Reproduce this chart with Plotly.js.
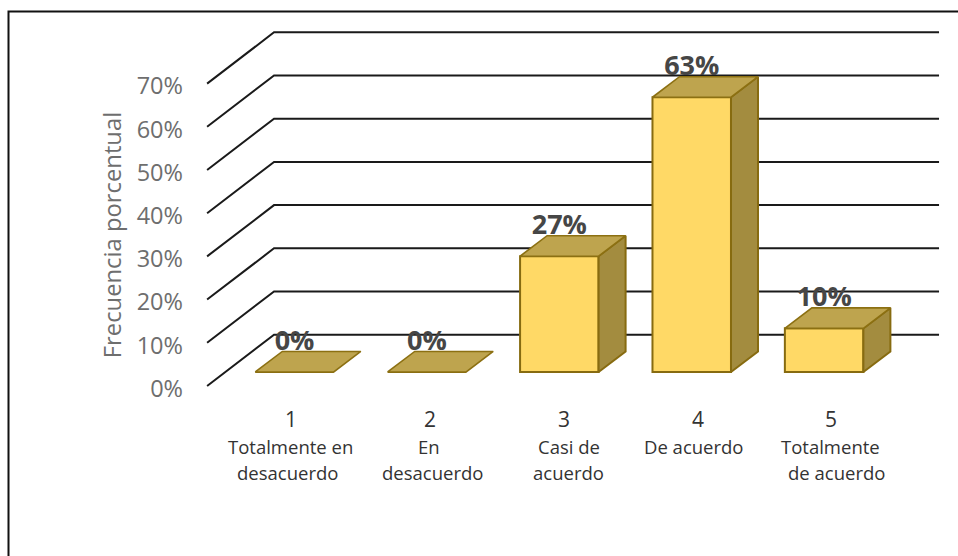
<!DOCTYPE html>
<html>
<head>
<meta charset="utf-8">
<script src="https://cdn.plot.ly/plotly-3.0.1.min.js"></script>
<style>html,body{margin:0;padding:0;background:#fff}#chart{width:958px;height:556px}</style>
</head>
<body>
<div id="chart"></div>
<script>
// Data
const categories = [1, 2, 3, 4, 5];
const values = [0, 0, 26.8, 63.6, 10.1];
const valueLabels = ['0%', '0%', '27%', '63%', '10%'];
const yTicks = [0, 10, 20, 30, 40, 50, 60, 70];
const yTickText = ['0%', '10%', '20%', '30%', '40%', '50%', '60%', '70%'];
const numberTickPos = [0.974, 2.023, 3.035, 4.047, 5.051];
const catLine1 = ['Totalmente en', 'En', 'Casi de', 'De acuerdo', 'Totalmente'];
const catLine1Pos = [0.97, 2.015, 3.07, 4.02, 5.05];
const catLine2 = ['desacuerdo', 'desacuerdo', 'acuerdo', '', 'de acuerdo'];
const catLine2Pos = [0.95, 2.04, 3.07, 4.02, 5.095];

// Projection of the pseudo 3-D box, in axis units
const W = 958, H = 556;
const L = 184, R = 945, T = 20, B = 450;
const xRange = [0.165, 5.913];
const yRange = [-18.06, 81.48];
const xAxisPx = 405;
const barWidth = 0.593, depthX = 0.204, depthY = 4.75;
const frontX = 0.3395, backX = 0.845, rightX = 5.868;
const frontDY = -3.24, backDY = 8.63;
const tickLabelDY = -0.6;
const labelDY = 6.7;

const paperX = px => (px - L) / (R - L);
const paperY = py => (B - py) / (B - T);

// Top and side faces built from the values
const topX = [], topY = [], sideX = [], sideY = [];
categories.forEach((c, i) => {
  const x0 = c - barWidth / 2, x1 = c + barWidth / 2, v = values[i];
  topX.push(x0, x1, x1 + depthX, x0 + depthX, x0, null);
  topY.push(v, v, v + depthY, v + depthY, v, null);
  if (v > 0) {
    sideX.push(x1, x1 + depthX, x1 + depthX, x1, x1, null);
    sideY.push(0, depthY, v + depthY, v, 0, null);
  }
});

const traces = [
  { type: 'bar', x: categories, y: values, width: barWidth,
    marker: { color: '#ffd966', line: { color: '#876b10', width: 2 } },
    hoverinfo: 'skip', showlegend: false },
  { type: 'scatter', mode: 'lines', x: sideX, y: sideY, fill: 'toself', fillcolor: '#a38c3f',
    line: { color: '#876b10', width: 2 }, hoverinfo: 'skip', showlegend: false },
  { type: 'scatter', mode: 'lines', x: topX, y: topY, fill: 'toself', fillcolor: '#bea44e',
    line: { color: '#8c7012', width: 1.6 }, hoverinfo: 'skip', showlegend: false },
  { type: 'scatter', mode: 'text', x: categories, y: values.map(v => v + labelDY),
    text: valueLabels, textposition: 'middle center', cliponaxis: false,
    textfont: { family: 'Open Sans', size: 27, color: '#464646', weight: 700 },
    hoverinfo: 'skip', showlegend: false }
];

// Gridlines: front edge, back corner, back wall
const shapes = yTicks.map(v => ({
  type: 'path', xref: 'x', yref: 'y', layer: 'below',
  path: `M ${frontX} ${v + frontDY} L ${backX} ${v + backDY} L ${rightX} ${v + backDY}`,
  line: { color: '#1a1a1a', width: 2 }
}));
// Outer frame, open at the right and bottom edges of the image
shapes.push({
  type: 'path', xref: 'paper', yref: 'paper',
  path: `M ${paperX(8.5)} ${paperY(556)} L ${paperX(8.5)} ${paperY(11.5)} L ${paperX(958)} ${paperY(11.5)}`,
  line: { color: '#111111', width: 2 }
});

const annotations = [];
const catFont = { family: 'Open Sans', size: 18.5, color: '#333333' };
catLine1.forEach((t, i) => annotations.push({ text: t, xref: 'x', yref: 'paper', x: catLine1Pos[i], y: paperY(446),
  showarrow: false, xanchor: 'center', yanchor: 'middle', font: catFont }));
catLine2.forEach((t, i) => { if (t) annotations.push({ text: t, xref: 'x', yref: 'paper', x: catLine2Pos[i], y: paperY(472),
  showarrow: false, xanchor: 'center', yanchor: 'middle', font: catFont }); });

const layout = {
  width: W, height: H,
  margin: { l: L, r: W - R, t: T, b: H - B, pad: 0 },
  paper_bgcolor: '#ffffff', plot_bgcolor: 'rgba(0,0,0,0)',
  showlegend: false, barmode: 'overlay',
  xaxis: { range: xRange, tickmode: 'array', tickvals: numberTickPos, ticktext: categories.map(String),
    anchor: 'free', position: paperY(xAxisPx),
    showgrid: false, zeroline: false, showline: false, ticks: '', ticklen: 0,
    tickfont: { family: 'Open Sans', size: 21, color: '#333333' } },
  yaxis: { range: yRange, tickmode: 'array', tickvals: yTicks.map(v => v + frontDY + tickLabelDY), ticktext: yTickText,
    showgrid: false, zeroline: false, showline: false, ticks: '', ticklen: 0,
    tickfont: { family: 'Open Sans', size: 23.5, color: '#6e6e6e' },
    title: { text: 'Frecuencia porcentual', standoff: 8, font: { family: 'Open Sans', size: 23.8, color: '#6e6e6e' } } },
  shapes, annotations
};

Plotly.newPlot('chart', traces, layout, { staticPlot: true, displayModeBar: false });
</script>
</body>
</html>
